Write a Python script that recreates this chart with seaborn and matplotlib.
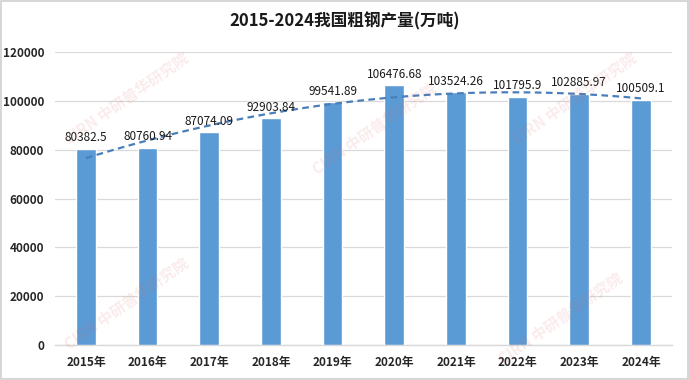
import numpy as np
import pandas as pd
import seaborn as sns
import matplotlib.pyplot as plt

# =========================
# DATA
# =========================
years = ["2015年", "2016年", "2017年", "2018年", "2019年",
         "2020年", "2021年", "2022年", "2023年", "2024年"]
output = [80382.5, 80760.94, 87074.09, 92903.84, 99541.89,
          106476.68, 103524.26, 101795.9, 102885.97, 100509.1]
value_labels = ["80382.5", "80760.94", "87074.09", "92903.84", "99541.89",
                "106476.68", "103524.26", "101795.9", "102885.97", "100509.1"]
y_ticks = [0, 20000, 40000, 60000, 80000, 100000, 120000]

df = pd.DataFrame({"year": years, "output": output})

# =========================
# STYLE
# =========================
sns.set_theme(style="white")
plt.rcParams['font.family'] = ['Noto Sans CJK SC', 'DejaVu Sans']

fig = plt.figure(figsize=(6.89, 3.80), dpi=100)
ax = fig.add_axes([0.080, 0.092, 0.895, 0.771])

# frame around whole picture
fig.patches.append(plt.Rectangle((0.002, 0.003), 0.996, 0.994, transform=fig.transFigure,
                                 fill=False, edgecolor="#d0d0d0", linewidth=1.2))

sns.barplot(data=df, x="year", y="output", color="#5b9bd5", saturation=1,
            width=0.32, ax=ax, zorder=3)

# polynomial trend line (order 2), like Excel trendline
xs = np.arange(len(output))
coef = np.polyfit(xs, output, 2)
xx = np.linspace(0, len(output) - 1, 100)
ax.plot(xx, np.polyval(coef, xx), linestyle=(0, (3, 2)), color="#4a7ebb",
        linewidth=1.6, zorder=4)

for i, (v, s) in enumerate(zip(output, value_labels)):
    ax.text(i, v + 1800, s, ha="center", va="bottom", fontsize=8.5,
            color="#1a1a1a", zorder=5)

ax.set_ylim(0, 120000)
ax.set_xlim(-0.5, len(years) - 0.5)
ax.set_yticks(y_ticks)
ax.set_yticklabels([str(t) for t in y_ticks], fontsize=8.5, fontweight="bold", color="#262626")
for lbl in ax.get_xticklabels():
    lbl.set_fontsize(8.5)
    lbl.set_fontweight("bold")
    lbl.set_color("#262626")
ax.tick_params(axis="both", length=0, pad=8)
ax.set_xlabel("")
ax.set_ylabel("")

ax.yaxis.grid(True, color="#d9d9d9", linewidth=0.9, zorder=0)
ax.set_axisbelow(True)
for side in ["top", "right", "left"]:
    ax.spines[side].set_visible(False)
ax.spines["bottom"].set_color("#d9d9d9")
ax.spines["bottom"].set_linewidth(1.0)

fig.text(0.5, 0.945, "2015-2024我国粗钢产量(万吨)", ha="center", va="center",
         fontsize=12, fontweight="bold", color="#1a1a1a")

# faint watermarks
for (x, y) in [(0.09, 0.74), (0.45, 0.66), (0.74, 0.74), (0.09, 0.20), (0.72, 0.16)]:
    fig.text(x, y, "CIRN 中研普华研究院", rotation=35, fontsize=11, fontweight="bold",
             color="#e06060", alpha=0.12, ha="left", va="center")

fig.savefig("out.png", dpi=100)
